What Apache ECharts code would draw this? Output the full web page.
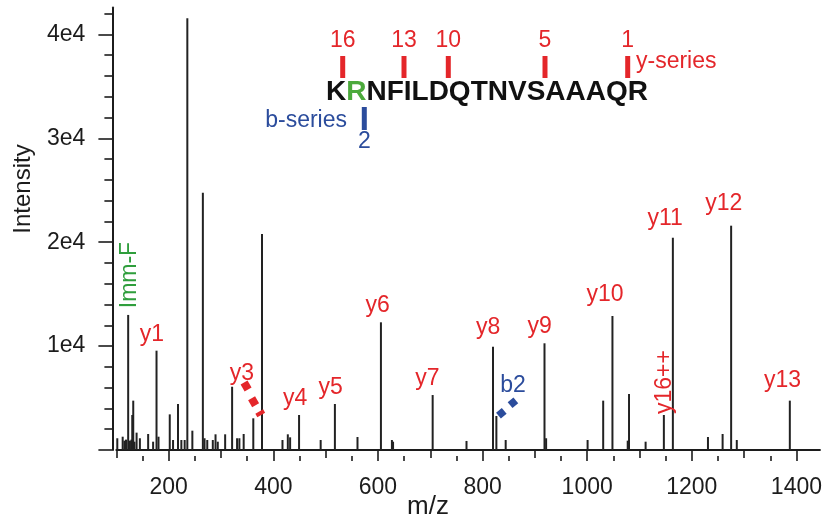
<!DOCTYPE html>
<html><head><meta charset="utf-8">
<script src="https://cdn.jsdelivr.net/npm/echarts@6/dist/echarts.min.js"></script>
<style>html,body{margin:0;padding:0;background:#fff}#c{width:825px;height:520px}</style>
</head><body><div id="c"></div>
<script>
// ---- Data ----
const peakMz = [101.7,112.0,115.4,118.3,122.5,125.9,128.8,130.3,132.2,134.5,138.6,144.9,160.7,170.2,176.7,180.5,
  202.0,208.3,217.8,224.2,230.5,235.6,245.2,265.3,268.5,273.7,284.3,289.5,293.8,307.9,321.2,330.7,335.1,343.3,
  361.7,378.3,417.5,427.7,432.1,449.2,490.5,517.7,560.9,605.7,626.7,628.9,704.6,769.3,820.0,826.4,844.2,918.4,
  921.5,1000.8,1030.6,1048.3,1077.5,1080.0,1111.7,1146.6,1163.8,1230.9,1258.9,1275.2,1286.0,1387.4];
const peakIntensity = [1130,1280,900,1000,13000,900,1000,3370,4750,800,1670,1130,1540,800,9560,1280,
  3430,960,4430,960,960,41550,1860,24770,1130,960,960,1510,800,1510,6090,1130,1130,1540,
  3050,20790,960,1510,1220,3370,960,4430,1250,12290,960,800,5290,870,9940,3270,960,10270,
  1130,960,4750,12900,900,5390,800,3370,20430,1250,1540,21590,960,4750];

// ion annotations (text anchor in data space)
const ionNames = ['Imm-F','y1','y3','y4','y5','y6','y7','y8','b2','y9','y10','y16++','y11','y12','y13'];
const ionMz = [125.0,167.7,339.9,441.6,509.5,599.5,694.6,810.6,858.1,908.9,1034.0,1147.2,1149.1,1261.3,1373.5];
const ionIntensity = [16840,11070,7315,4910,5970,13860,6830,11740,6160,11840,14920,6545,22230,23680,6640];

// diamond markers
const y3MarkMz = [347.9,362.3,375.0];
const y3MarkIntensity = [6160,4650,3530];
const b2MarkMz = [835.9,858.1];
const b2MarkIntensity = [3530,4550];

// axis ticks
const xLabelTicks = [200,400,600,800,1000,1200,1400];
const xMidTicks = [100,300,500,700,900,1100,1300];
const xMinorTicks = [150,250,350,450,550,650,750,850,950,1050,1150,1250,1350,1450];
const yLabelTicks = [10000,20000,30000,40000];
const yMajorTicks = [0,10000,20000,30000,40000];
const yMinorTicks = [2000,4000,6000,8000,12000,14000,16000,18000,22000,24000,26000,28000,32000,34000,36000,38000,42000];

// peptide annotation
const peptide = 'KRNFILDQTNVSAAAQR';
const yCleavages = ['16','13','10','5','1'];
const bCleavages = ['2'];

// ---- Styles ----
const FONT = '"Liberation Sans", Arial, Helvetica, sans-serif';
const RED = '#e4262a', BLUE = '#2b4c9c', GREEN = '#2f9e3c', INK = '#1c1c1c';
const X_MIN = 100, X_MAX = 1445, Y_MAX = 42600;

const chart = echarts.init(document.getElementById('c'), null, {renderer: 'canvas'});

function ionColor(n){ return n.charAt(0) === 'y' ? RED : (n.charAt(0) === 'b' ? BLUE : GREEN); }
const rotatedIons = {'Imm-F': true, 'y16++': true};

const xBase = {type:'value', min:X_MIN, max:X_MAX, position:'bottom', offset:6, splitLine:{show:false}, axisLine:{show:false}, axisLabel:{show:false}};
const yBase = {type:'value', min:0, max:Y_MAX, position:'left', offset:4, splitLine:{show:false}, axisLine:{show:false}, axisLabel:{show:false}};

// peptide graphics (pixel layout of the inset)
const seqX = 326, seqY = 92.5;
const yBarX = [342.7, 404, 448.3, 545, 627.7];
const bBarX = [364.3];
const graphics = [];
graphics.push({type:'text', x:seqX, y:seqY, silent:true, style:{
  text:'{k|' + peptide.charAt(0) + '}{g|' + peptide.charAt(1) + '}{k|' + peptide.slice(2) + '}',
  align:'left', verticalAlign:'middle',
  rich:{ k:{fontSize:28, fontWeight:'bold', fontFamily:FONT, fill:'#111'},
         g:{fontSize:28, fontWeight:'bold', fontFamily:FONT, fill:'#4caa3c'} }
}});
yCleavages.forEach((t,i)=>{
  graphics.push({type:'rect', silent:true, shape:{x:yBarX[i]-2.5, y:56, width:5, height:22}, style:{fill:RED}});
  graphics.push({type:'text', silent:true, x:yBarX[i], y:41, style:{text:t, fill:RED, font:'23px ' + FONT, align:'center', verticalAlign:'middle'}});
});
graphics.push({type:'text', silent:true, x:636, y:62, style:{text:'y-series', fill:RED, font:'23px ' + FONT, align:'left', verticalAlign:'middle'}});
bCleavages.forEach((t,i)=>{
  graphics.push({type:'rect', silent:true, shape:{x:bBarX[i]-2.5, y:107, width:5, height:23}, style:{fill:BLUE}});
  graphics.push({type:'text', silent:true, x:bBarX[i], y:142, style:{text:t, fill:BLUE, font:'23px ' + FONT, align:'center', verticalAlign:'middle'}});
});
graphics.push({type:'text', silent:true, x:347, y:121, style:{text:'b-series', fill:BLUE, font:'23px ' + FONT, align:'right', verticalAlign:'middle'}});
// axis titles
graphics.push({type:'text', silent:true, x:428, y:507, style:{text:'m/z', fill:INK, font:'26px ' + FONT, align:'center', verticalAlign:'middle'}});
graphics.push({type:'text', silent:true, x:23, y:189, rotation:Math.PI/2, style:{text:'Intensity', fill:INK, font:'24px ' + FONT, align:'center', verticalAlign:'middle'}});

const option = {
  animation:false,
  backgroundColor:'#fff',
  grid:{left:116.4, right:1.4, top:7.4, bottom:70, containLabel:false},
  xAxis:[
    Object.assign({}, xBase, {
      axisLine:{show:true, lineStyle:{color:INK, width:2}},
      axisTick:{show:true, customValues:xLabelTicks, length:11, lineStyle:{color:INK, width:1.6}},
      axisLabel:{show:true, customValues:xLabelTicks, margin:20, fontSize:23, fontFamily:FONT, color:INK,
        formatter:v => String(v)}
    }),
    Object.assign({}, xBase, {axisTick:{show:true, customValues:xMidTicks, length:8, lineStyle:{color:INK, width:1.6}}}),
    Object.assign({}, xBase, {axisTick:{show:true, customValues:xMinorTicks, length:5, lineStyle:{color:INK, width:1.6}}})
  ],
  yAxis:[
    Object.assign({}, yBase, {
      axisLine:{show:true, lineStyle:{color:INK, width:2}},
      axisTick:{show:true, customValues:yMajorTicks, length:14, lineStyle:{color:INK, width:1.6}},
      axisLabel:{show:true, customValues:yLabelTicks, margin:27, fontSize:23, fontFamily:FONT, color:INK,
        formatter:v => (v/10000) + 'e4'}
    }),
    Object.assign({}, yBase, {axisTick:{show:true, customValues:yMinorTicks, length:8, lineStyle:{color:INK, width:1.6}}})
  ],
  series:[
    {type:'bar', name:'spectrum', xAxisIndex:0, yAxisIndex:0, barWidth:2, silent:true,
      itemStyle:{color:'#222'},
      data:peakMz.map((m,i)=>[m, peakIntensity[i]])},
    {type:'scatter', name:'y3 marks', xAxisIndex:0, yAxisIndex:0, silent:true, symbol:'rect', z:5,
      itemStyle:{color:RED, opacity:1},
      data:y3MarkMz.map((m,i)=>({value:[m, y3MarkIntensity[i]], symbolSize: i === 2 ? [9,4] : [8,8], symbolRotate:30}))},
    {type:'scatter', name:'b2 marks', xAxisIndex:0, yAxisIndex:0, silent:true, symbol:'rect', z:5,
      itemStyle:{color:BLUE, opacity:1}, symbolSize:[7.5,7.5], symbolRotate:40,
      data:b2MarkMz.map((m,i)=>[m, b2MarkIntensity[i]])},
    {type:'scatter', name:'ion labels', xAxisIndex:0, yAxisIndex:0, silent:true, symbolSize:1, z:6,
      itemStyle:{color:'rgba(0,0,0,0)', opacity:1},
      data:ionNames.map((n,i)=>({name:n, value:[ionMz[i], ionIntensity[i]],
        label:{show:true, position:'inside', formatter:n, color:ionColor(n), opacity:1, rotate: rotatedIons[n] ? 90 : 0,
          fontSize:23, fontFamily:FONT, align:'center', verticalAlign:'middle'}}))}
  ],
  graphic:graphics
};
chart.setOption(option);
</script></body></html>
